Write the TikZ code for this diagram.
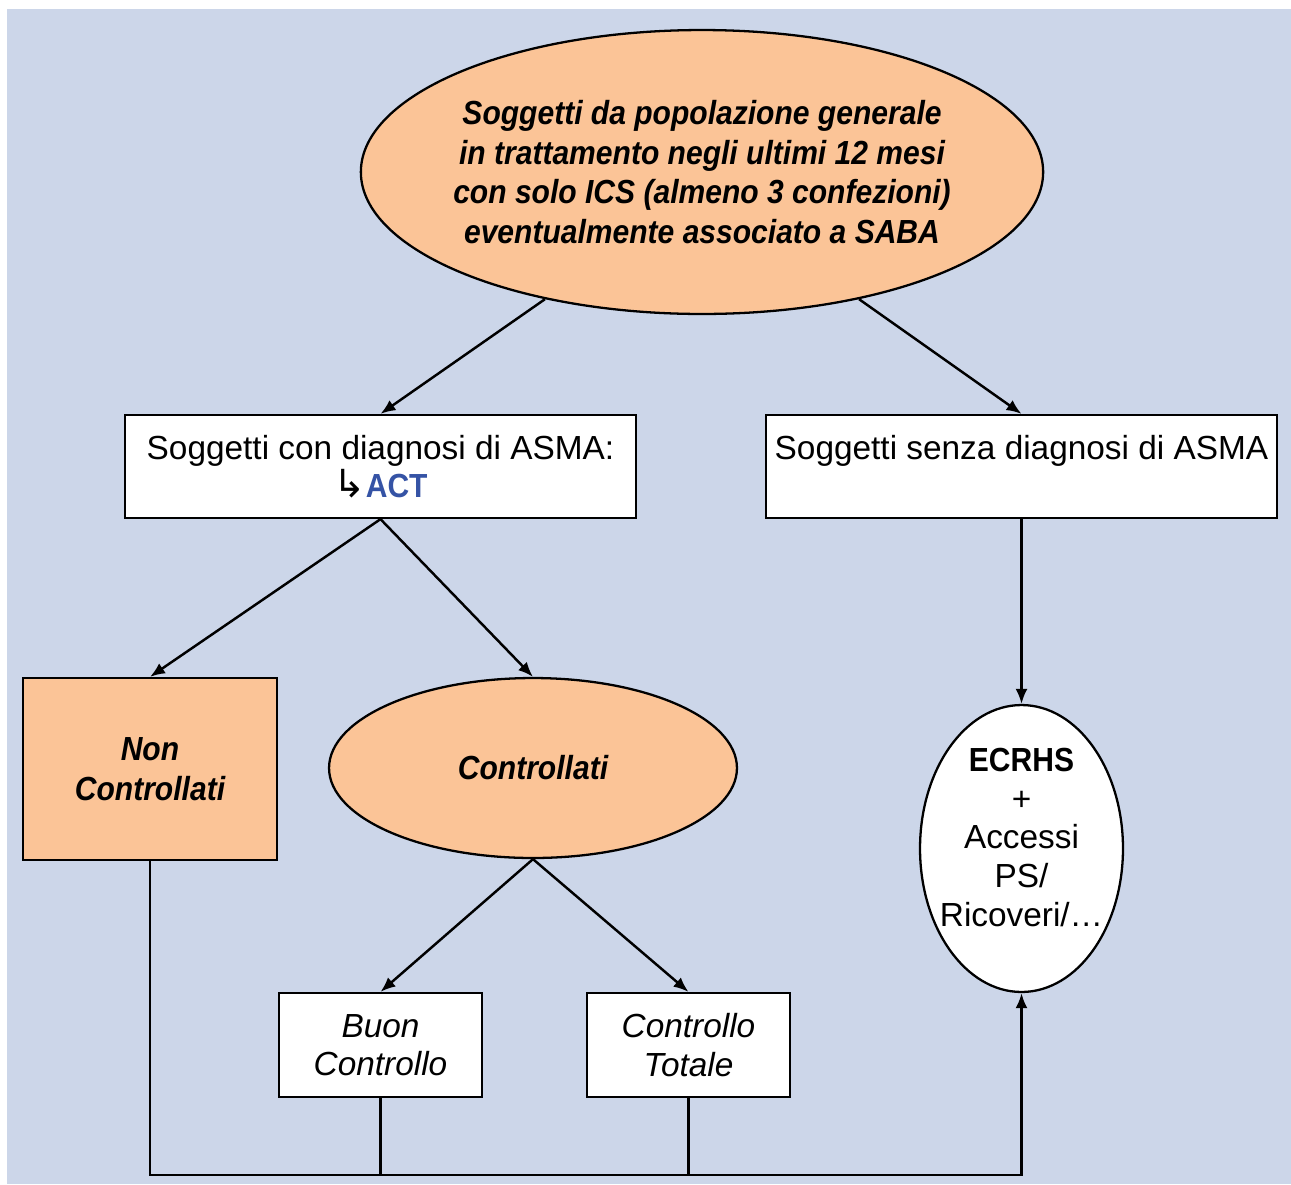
\documentclass[tikz,border=0pt]{standalone}
\usepackage{fontspec}
\setmainfont{Liberation Sans}
\newfontfamily\condfont[FakeStretch=0.9]{Liberation Sans}
\newfontfamily\symfont{DejaVu Sans}
\usetikzlibrary{arrows.meta,shapes.geometric}
\definecolor{bgblue}{RGB}{204,214,233}
\definecolor{peach}{RGB}{251,196,151}
\definecolor{actblue}{RGB}{53,83,165}
\newcommand{\regtext}{\fontsize{19}{22}\selectfont}
\newcommand{\boldtext}{\fontsize{19}{22.5}\selectfont\condfont\bfseries\itshape}
\tikzset{
  fbox/.style   = {draw=black, line width=1.3pt, fill=white, align=center,
                   font=\regtext, inner sep=2pt},
  fpeach/.style = {fbox, fill=peach, font=\boldtext},
  fell/.style   = {fbox, ellipse},
  fellpeach/.style = {fell, fill=peach, font=\boldtext},
  % small result boxes at the bottom
  fleaf/.style  = {fbox, font=\regtext\itshape, minimum width=4.06cm,
                   minimum height=2.08cm},
  arr/.style    = {draw=black, line width=1.4pt,
                   -{Latex[length=0.3cm, width=0.24cm]}},
  link/.style   = {draw=black, line width=1.4pt},
}

\begin{document}
\begin{tikzpicture}[x=0.02cm, y=-0.02cm]

    \useasboundingbox (0,0) rectangle (1291,1184);
    \fill[bgblue] (7,9) rectangle (1291,1184);

    \node[fellpeach, minimum width=13.28cm, minimum height=5.68cm,
          inner xsep=-0.15cm, inner ysep=0pt] (pop) at (702,172)
      {Soggetti da popolazione generale\\in trattamento negli ultimi 12 mesi\\
       con solo ICS (almeno 3 confezioni)\\eventualmente associato a SABA};

    \node[fbox, minimum width=10.22cm, minimum height=2.06cm] (diag) at (380.5,466.5)
      {Soggetti con diagnosi di ASMA:\\
       {\symfont\fontsize{22}{22}\selectfont ↳}{\condfont\bfseries\color{actblue}ACT}};
    \node[fbox, minimum width=10.22cm, minimum height=2.06cm] (nodiag) at (1021.5,466.5)
      {Soggetti senza diagnosi di ASMA\\\mbox{}};

    \node[fpeach, minimum width=5.08cm, minimum height=3.64cm] (nonc) at (150,769)
      {Non\\Controllati};
    \node[fellpeach, minimum width=8.16cm, minimum height=3.6cm] (contr) at (533,768)
      {Controllati};

    \node[fleaf] (buon) at (380.5,1045) {Buon\\Controllo};
    \node[fleaf] (tot) at (688.5,1045) {Controllo\\Totale};

    \node[fell, minimum width=4.06cm, minimum height=5.74cm,
          inner xsep=-0.2cm, inner ysep=0pt] (ecrhs) at (1021.5,848.5)
      {{\condfont\bfseries ECRHS}\\+\\Accessi\\PS/\\Ricoveri/…\\[-9pt]\mbox{}};

    \coordinate (bot) at (0,1175);

    \draw[arr] (pop.219) -- (diag.north);
    \draw[arr] (pop.321) -- (nodiag.north);
    \draw[arr] (diag.south) -- (nonc.north);
    \draw[arr] (diag.south) -- (contr.north);
    \draw[arr] (contr.south) -- (buon.north);
    \draw[arr] (contr.south) -- (tot.north);
    \draw[arr] (nodiag.south) -- (ecrhs.north);

    \draw[arr] (nonc.south) -- (nonc.south |- bot) -- (ecrhs.south |- bot) -- (ecrhs.south);
    \draw[link] (buon.south) -- (buon.south |- bot);
    \draw[link] (tot.south) -- (tot.south |- bot);
  \end{tikzpicture}
\end{document}
